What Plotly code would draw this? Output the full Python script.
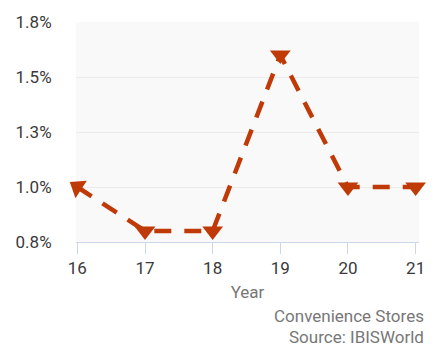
import plotly.graph_objects as go

# Annual growth series
years = [16, 17, 18, 19, 20, 21]
growth = [1.0, 0.8, 0.8, 1.6, 1.0, 1.0]

y_ticks = [0.75, 1.0, 1.25, 1.5, 1.75]
y_tick_text = ["0.8%", "1.0%", "1.3%", "1.5%", "1.8%"]
x_tick_text = ["16", "17", "18", "19", "20", "21"]

# first marker points back along the line, the rest point down
marker_angles = [123, 0, 0, 0, 0, 0]

line_color = "#bf3a06"
font_family = "Roboto, Arial, sans-serif"

fig = go.Figure()
fig.add_trace(go.Scatter(
    x=years,
    y=growth,
    mode="lines+markers",
    line=dict(color=line_color, width=4.5, dash="17px,13px"),
    marker=dict(symbol="triangle-down", size=18, color=line_color,
                angle=marker_angles),
    hoverinfo="skip",
    showlegend=False,
    cliponaxis=False,
))

fig.update_layout(
    width=437,
    height=346,
    margin=dict(l=76, r=17, t=18, b=104),
    paper_bgcolor="white",
    plot_bgcolor="#f9f9f9",
    font=dict(family=font_family, size=17, color="#3a3a3a"),
    xaxis=dict(
        range=[15.98, 21.05],
        tickmode="array",
        tickvals=years,
        ticktext=x_tick_text,
        ticks="outside",
        ticklen=11,
        tickcolor="#ccd6eb",
        tickwidth=1,
        showgrid=False,
        zeroline=False,
        showline=True,
        linecolor="#ccd6eb",
        linewidth=1,
        tickfont=dict(size=17, color="#3a3a3a"),
        title=dict(text="Year", font=dict(size=17, color="#777777"), standoff=8),
    ),
    yaxis=dict(
        range=[0.75, 1.75],
        tickmode="array",
        tickvals=y_ticks,
        ticktext=y_tick_text,
        ticks="outside",
        ticklen=20,
        tickcolor="rgba(0,0,0,0)",
        showgrid=True,
        gridcolor="#ebebeb",
        gridwidth=1,
        zeroline=False,
        showline=False,
        tickfont=dict(size=17, color="#3a3a3a"),
    ),
    annotations=[
        dict(text="Convenience Stores", xref="paper", yref="paper",
             x=1, y=0, xanchor="right", yanchor="middle",
             xshift=7, yshift=-73.5, showarrow=False,
             font=dict(size=17, color="#777777")),
        dict(text="Source: IBISWorld", xref="paper", yref="paper",
             x=1, y=0, xanchor="right", yanchor="middle",
             xshift=7, yshift=-94.5, showarrow=False,
             font=dict(size=17, color="#777777")),
    ],
)

fig.write_html("out.html")
